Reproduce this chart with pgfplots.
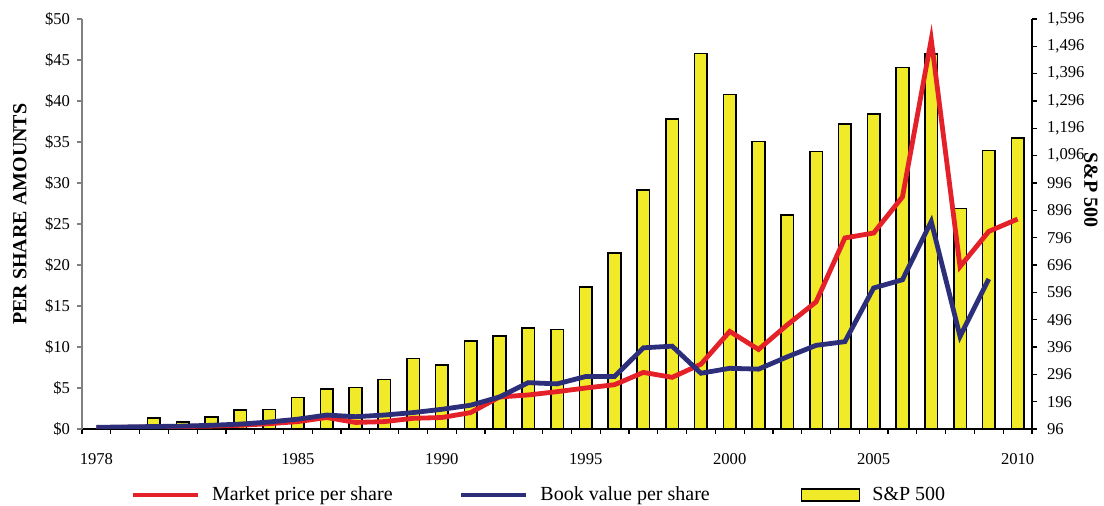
\documentclass[border=0pt]{standalone}
\usepackage{pgfplots}
\pgfplotsset{compat=1.18}
\usepackage{fontspec}
\setmainfont{Liberation Serif}
\usetikzlibrary{calc}
\definecolor{yellowc}{RGB}{241,234,40}
\definecolor{redc}{RGB}{228,32,40}
\definecolor{bluec}{RGB}{44,46,122}
\pgfplotstableread{
x sp
0 96.11
1 107.94
2 135.76
3 122.55
4 140.64
5 164.93
6 167.24
7 211.28
8 242.17
9 247.08
10 277.72
11 353.40
12 330.22
13 417.09
14 435.71
15 466.45
16 459.27
17 615.93
18 740.74
19 970.43
20 1229.23
21 1469.25
22 1320.28
23 1148.08
24 879.82
25 1111.92
26 1211.92
27 1248.29
28 1418.30
29 1468.36
30 903.25
31 1115.10
32 1160
}\sptable
\pgfplotstableread{
x mp
0 0.15
1 0.2
2 0.25
3 0.3
4 0.35
5 0.45
6 0.65
7 0.9
8 1.4
9 0.8
10 0.9
11 1.3
12 1.4
13 2.0
14 3.9
15 4.15
16 4.55
17 5.0
18 5.4
19 6.9
20 6.3
21 7.9
22 11.9
23 9.7
24 12.7
25 15.5
26 23.3
27 23.9
28 28.3
29 47.5
30 19.8
31 24.1
32 25.6
}\mptable
\pgfplotstableread{
x bv
0 0.2
1 0.25
2 0.3
3 0.35
4 0.45
5 0.6
6 0.85
7 1.2
8 1.7
9 1.5
10 1.7
11 2.0
12 2.4
13 2.9
14 3.9
15 5.65
16 5.5
17 6.4
18 6.4
19 9.9
20 10.1
21 6.8
22 7.4
23 7.3
24 8.8
25 10.2
26 10.65
27 17.2
28 18.2
29 25.3
30 11.3
31 18.3
}\bvtable
\begin{document}
\begin{tikzpicture}
\pgfplotsset{
  every axis/.append style={
    scale only axis, width=475pt, height=205pt,
    xmin=-0.5, xmax=32.5,
    tick label style={font=\fontsize{8.3}{10}\selectfont},
    label style={font=\fontsize{10}{12}\selectfont\bfseries},
  }
}
\begin{axis}[name=ax,
  axis y line*=right, axis x line*=bottom,
  ymin=96, ymax=1596,
  ytick={96,196,...,1596},
  yticklabels={96,196,296,396,496,596,696,796,896,996,{1,096},{1,196},{1,296},{1,396},{1,496},{1,596}},
  xtick={0,7,12,17,22,27,32},
  xticklabels={1978,1985,1990,1995,2000,2005,2010},
  major x tick style={draw=none},
  minor xtick={-0.5,0.5,...,32.5},
  tick align=outside,
  minor tick length=2.5pt,
  major tick length=2.5pt,
  xticklabel shift=6.2pt,
  yticklabel shift=1.5pt,
  axis line style={black, line width=0.6pt},
  tick style={black, line width=0.6pt},
  ylabel={S\&P 500},
  ylabel style={at={(axis description cs:1.062,0.583)}, anchor=center, rotate=180},
]
\addplot[ybar, bar width=6.3pt, fill=yellowc, draw=black, line width=0.8pt] table[x=x,y=sp]{\sptable};
\end{axis}
\begin{axis}[
  axis y line*=left, axis x line=none,
  ymin=0, ymax=50,
  ytick={0,5,...,50},
  yticklabels={\$0,\$5,\$10,\$15,\$20,\$25,\$30,\$35,\$40,\$45,\$50},
  tick align=outside,
  major tick length=2.5pt,
  axis line style={gray, line width=0.8pt},
  ytick style={gray, line width=0.8pt},
  ylabel={PER SHARE AMOUNTS},
  ylabel style={at={(axis description cs:-0.0653,0.524)}, anchor=center},
  legend image code/.code={\draw[#1] (0pt,0pt) -- (32.5pt,0pt);},
  legend columns=3,
  legend style={draw=none, fill=none, inner sep=0pt,
    at={(axis description cs:0.0505,-0.161)}, anchor=west,
    font=\fontsize{10}{12}\selectfont,
    /tikz/every odd column/.append style={column sep=4pt},
    /tikz/column 2/.append style={column sep=31pt},
    /tikz/column 4/.append style={column sep=43.5pt}},
]
\addplot[redc, line width=2.4pt] table[x=x,y=mp]{\mptable};
\addlegendentry{Market price per share}
\addplot[bluec, line width=2.4pt] table[x=x,y=bv]{\bvtable};
\addlegendentry{Book value per share}
\addlegendimage{legend image code/.code={\draw[fill=yellowc, draw=black, line width=0.8pt] (0pt,-3pt) rectangle (29pt,3pt);}}
\addlegendentry{S\&P 500}
\end{axis}
\pgfresetboundingbox
\path ($(ax.south west)+(-41pt,-38.5pt)$) rectangle ($(ax.north east)+(36pt,9.5pt)$);
\end{tikzpicture}
\end{document}
